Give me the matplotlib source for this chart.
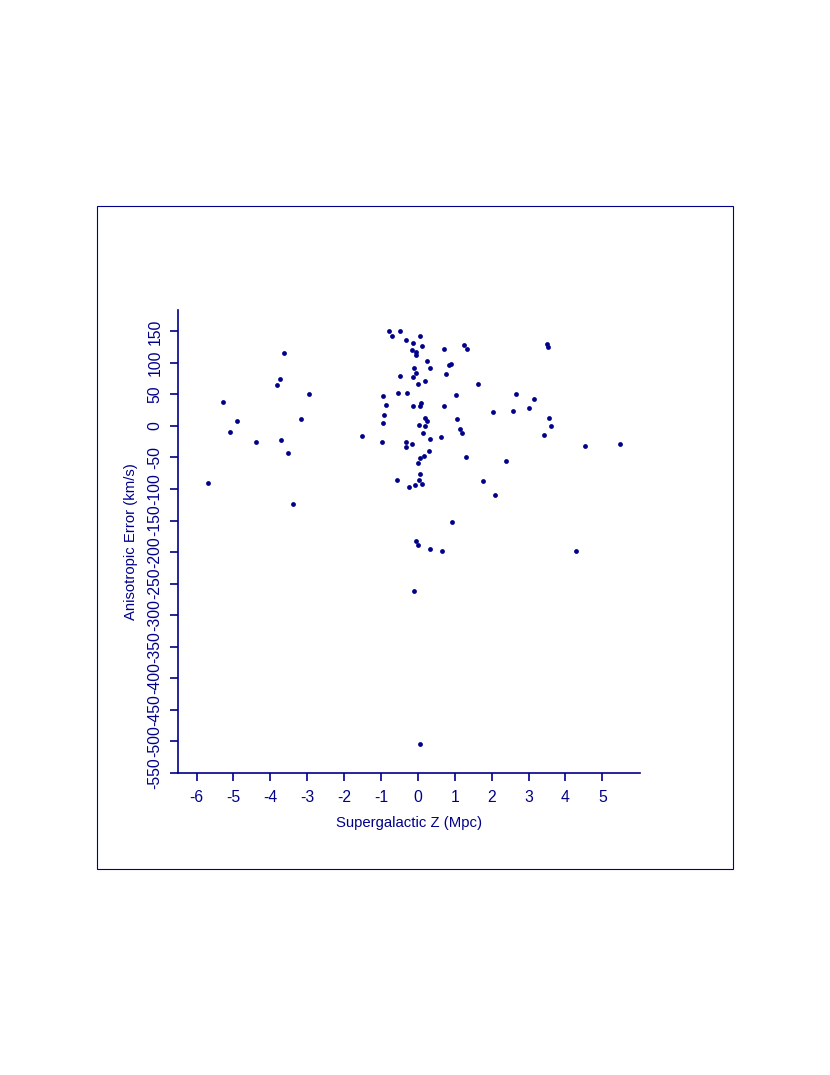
import matplotlib
matplotlib.use("Agg")
import matplotlib.pyplot as plt
from matplotlib.patches import Rectangle

# Supergalactic Z (Mpc) vs anisotropic error (km/s)
sgz = [-3.63, -3.74, -3.82, -2.96, -5.28, -4.90, -3.17, -5.08, -4.38, -3.71,
       -3.53, -1.51, -5.68, -3.38,
       -0.79, -0.48, -0.69, 0.05, -0.33, -0.13, 0.11, -0.15, -0.04, -0.05,
       0.72, 1.24, 1.32, 0.24, 0.90, 0.83, 0.32, -0.10, 0.75, -0.06,
       -0.13, -0.48, 0.19, 0.01, 1.63, -0.53, -0.30, -0.95, 1.03, 2.65,
       3.14, -0.87, -0.14, 0.08, 0.05, 0.72, 2.03, 2.57, 3.01, -0.91,
       0.18, 0.26, 1.07, -0.94, 0.03, 0.19, 1.14, 1.19, 0.14, 0.62,
       0.33, -0.97, -0.33, -0.17, -0.33, 0.29, 0.16, 0.06, 1.31, 2.39,
       0.01, 0.05, -0.56, 0.03, -0.07, 0.11, -0.25, 1.77, 2.10,
       3.51, 3.54, 3.55, 3.62, 3.41, 4.54, 5.49, 0.93,
       -0.05, 0.01, 0.33, 0.65, -0.10, 4.29, 0.05]
aniso_err = [116, 74, 65, 50, 38, 8, 11, -10, -26, -22,
             -43, -16, -91, -124,
             151, 151, 143, 143, 136, 131, 127, 121, 118, 112,
             122, 129, 122, 103, 98, 97, 92, 92, 83, 84,
             78, 79, 71, 67, 67, 53, 53, 47, 49, 50,
             43, 33, 32, 37, 31, 32, 22, 23, 29, 17,
             13, 8, 11, 4, 2, 0.5, -5, -11, -11, -17,
             -21, -25, -26, -28, -34, -39, -48, -51, -49, -55,
             -58, -76, -85, -86, -93, -92, -97, -88, -109,
             130, 125, 13, 0.5, -14, -31, -29, -153,
             -183, -189, -195, -199, -261, -199, -504]

xticks = list(range(-6, 6))
yticks = list(range(-550, 151, 50))

navy = "#00008B"
plt.rcParams["font.family"] = ["Liberation Sans", "DejaVu Sans"]

fig = plt.figure(figsize=(8.3, 10.75), dpi=100)
fig.patches.append(Rectangle((97 / 830, 1 - 869 / 1075), 636 / 830, 663 / 1075,
                             transform=fig.transFigure, fill=False,
                             edgecolor=navy, linewidth=0.8))

ax = fig.add_axes([177.7 / 830, 1 - 773.3 / 1075, (640 - 177.7) / 830, (773.3 - 310) / 1075])
ax.scatter(sgz, aniso_err, s=12, color=navy, linewidths=0)

ax.set_xlim(-6.51, 6.02)
ax.set_ylim(-551, 184)
ax.set_xticks(xticks)
ax.set_yticks(yticks)
ax.set_xticklabels([str(t) for t in xticks])
ax.set_yticklabels([str(t) for t in yticks], rotation=90, va="center")

for side in ["top", "right"]:
    ax.spines[side].set_visible(False)
for side in ["left", "bottom"]:
    ax.spines[side].set_color(navy)
    ax.spines[side].set_linewidth(1.2)

ax.tick_params(axis="both", colors=navy, labelcolor=navy, length=6, width=1.2, labelsize=11.3)
ax.tick_params(axis="y", pad=5)
ax.tick_params(axis="x", pad=6)

ax.set_xlabel("Supergalactic Z (Mpc)", color=navy, fontsize=10.7, labelpad=8)
ax.set_ylabel("Anisotropic Error (km/s)", color=navy, fontsize=10.7, labelpad=7)

fig.savefig("out.png", dpi=100)
